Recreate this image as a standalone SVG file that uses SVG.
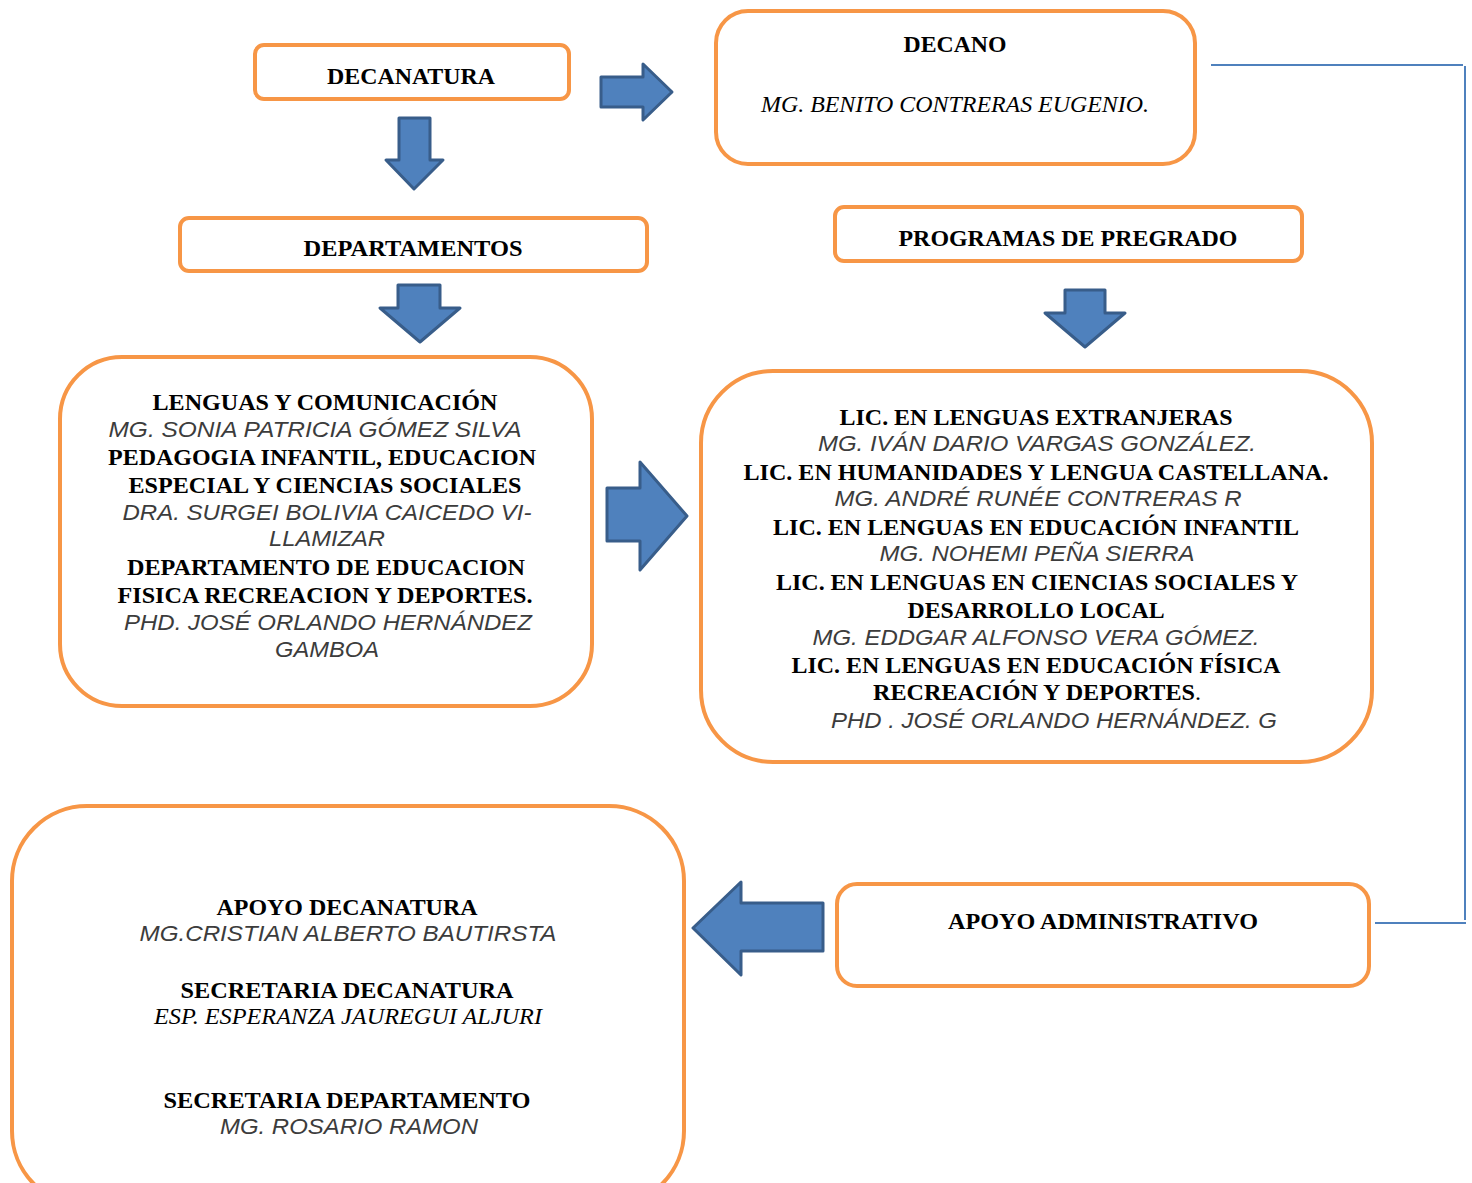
<svg xmlns="http://www.w3.org/2000/svg" width="1472" height="1183" viewBox="0 0 1472 1183">
<style>
.box{fill:#fff;stroke:#F79646;stroke-width:4}
.arr{fill:#4F81BD;stroke:#385D8A;stroke-width:3;stroke-linejoin:round}
.ln{fill:none;stroke:#4F81BD;stroke-width:2}
.b{font-family:"Liberation Serif","Times New Roman",serif;font-weight:bold;font-size:23px;fill:#000;text-anchor:middle}
.si{font-family:"Liberation Sans",Arial,sans-serif;font-style:italic;font-size:22px;fill:#3c3c3c;text-anchor:middle}
.ti{font-family:"Liberation Serif","Times New Roman",serif;font-style:italic;font-size:23px;fill:#000;text-anchor:middle}
</style>
<rect width="1472" height="1183" fill="#fff"/>
<g id="connectors">
<polygon class="arr" points="601,77 643,77 643,64 672,92 643,120 643,107 601,107"/>
<polygon class="arr" points="399,118 430,118 430,160 443,160 414,189 386,160 399,160"/>
<polygon class="arr" points="398,285 440,285 440,308 460,308 420,342 380,308 398,308"/>
<polygon class="arr" points="1065,290 1105,290 1105,313 1125,313 1085,347 1045,313 1065,313"/>
<polygon class="arr" points="607,488 640,488 640,462 687,516 640,570 640,541 607,541"/>
<polygon class="arr" points="823,903 741,903 741,882 693,928 741,975 741,951 823,951"/>
<polyline class="ln" points="1211,65 1463,65"/>
<polyline class="ln" points="1465,66 1465,920"/>
<polyline class="ln" points="1375,923 1466,923"/>
</g>
<g id="decanatura">
<rect class="box" x="255" y="45" width="314" height="54" rx="9"/>
<text class="b" x="411" y="84" textLength="168" lengthAdjust="spacingAndGlyphs">DECANATURA</text>
</g>
<g id="decano">
<rect class="box" x="716" y="11" width="479" height="153" rx="32"/>
<text class="b" x="955" y="52" textLength="103" lengthAdjust="spacingAndGlyphs">DECANO</text>
<text class="ti" x="955" y="112" textLength="388" lengthAdjust="spacingAndGlyphs">MG. BENITO CONTRERAS EUGENIO.</text>
</g>
<g id="departamentos">
<rect class="box" x="180" y="218" width="467" height="53" rx="9"/>
<text class="b" x="413" y="256" textLength="219" lengthAdjust="spacingAndGlyphs">DEPARTAMENTOS</text>
</g>
<g id="programas">
<rect class="box" x="835" y="207" width="467" height="54" rx="9"/>
<text class="b" x="1068" y="246" textLength="339" lengthAdjust="spacingAndGlyphs">PROGRAMAS DE PREGRADO</text>
</g>
<g id="departamentos-lista">
<rect class="box" x="60" y="357" width="532" height="349" rx="62"/>
<text class="b" x="325" y="410" textLength="345" lengthAdjust="spacingAndGlyphs">LENGUAS Y COMUNICACIÓN</text>
<text class="si" x="315" y="437" textLength="413" lengthAdjust="spacingAndGlyphs">MG. SONIA PATRICIA GÓMEZ SILVA</text>
<text class="b" x="322" y="465" textLength="428" lengthAdjust="spacingAndGlyphs">PEDAGOGIA INFANTIL, EDUCACION</text>
<text class="b" x="325" y="493" textLength="393" lengthAdjust="spacingAndGlyphs">ESPECIAL Y CIENCIAS SOCIALES</text>
<text class="si" x="327" y="520" textLength="409" lengthAdjust="spacingAndGlyphs">DRA. SURGEI BOLIVIA CAICEDO VI-</text>
<text class="si" x="327" y="546" textLength="116" lengthAdjust="spacingAndGlyphs">LLAMIZAR</text>
<text class="b" x="326" y="575" textLength="398" lengthAdjust="spacingAndGlyphs">DEPARTAMENTO DE EDUCACION</text>
<text class="b" x="325" y="603" textLength="415" lengthAdjust="spacingAndGlyphs">FISICA RECREACION Y DEPORTES.</text>
<text class="si" x="328" y="630" textLength="408" lengthAdjust="spacingAndGlyphs">PHD. JOSÉ ORLANDO HERNÁNDEZ</text>
<text class="si" x="327" y="657" textLength="104" lengthAdjust="spacingAndGlyphs">GAMBOA</text>
</g>
<g id="programas-lista">
<rect class="box" x="701" y="371" width="671" height="391" rx="72"/>
<text class="b" x="1036" y="425" textLength="393" lengthAdjust="spacingAndGlyphs">LIC. EN LENGUAS EXTRANJERAS</text>
<text class="si" x="1037" y="451" textLength="438" lengthAdjust="spacingAndGlyphs">MG. IVÁN DARIO VARGAS GONZÁLEZ.</text>
<text class="b" x="1036" y="480" textLength="585" lengthAdjust="spacingAndGlyphs">LIC. EN HUMANIDADES Y LENGUA CASTELLANA.</text>
<text class="si" x="1038" y="506" textLength="407" lengthAdjust="spacingAndGlyphs">MG. ANDRÉ RUNÉE CONTRERAS R</text>
<text class="b" x="1036" y="535" textLength="526" lengthAdjust="spacingAndGlyphs">LIC. EN LENGUAS EN EDUCACIÓN INFANTIL</text>
<text class="si" x="1037" y="561" textLength="315" lengthAdjust="spacingAndGlyphs">MG. NOHEMI PEÑA SIERRA</text>
<text class="b" x="1037" y="590" textLength="522" lengthAdjust="spacingAndGlyphs">LIC. EN LENGUAS EN CIENCIAS SOCIALES Y</text>
<text class="b" x="1036" y="618" textLength="257" lengthAdjust="spacingAndGlyphs">DESARROLLO LOCAL</text>
<text class="si" x="1036" y="645" textLength="447" lengthAdjust="spacingAndGlyphs">MG. EDDGAR ALFONSO VERA GÓMEZ.</text>
<text class="b" x="1036" y="673" textLength="489" lengthAdjust="spacingAndGlyphs">LIC. EN LENGUAS EN EDUCACIÓN FÍSICA</text>
<text class="b" x="1037" y="700" textLength="328" lengthAdjust="spacingAndGlyphs">RECREACIÓN Y DEPORTES<tspan font-weight="normal">.</tspan></text>
<text class="si" x="1054" y="728" textLength="446" lengthAdjust="spacingAndGlyphs">PHD . JOSÉ ORLANDO HERNÁNDEZ. G</text>
</g>
<g id="apoyo-lista">
<rect class="box" x="12" y="806" width="672" height="400" rx="75"/>
<text class="b" x="347" y="915" textLength="261" lengthAdjust="spacingAndGlyphs">APOYO DECANATURA</text>
<text class="si" x="348" y="941" textLength="417" lengthAdjust="spacingAndGlyphs">MG.CRISTIAN ALBERTO BAUTIRSTA</text>
<text class="b" x="347" y="998" textLength="333" lengthAdjust="spacingAndGlyphs">SECRETARIA DECANATURA</text>
<text class="ti" x="348" y="1024" textLength="388" lengthAdjust="spacingAndGlyphs">ESP. ESPERANZA JAUREGUI ALJURI</text>
<text class="b" x="347" y="1108" textLength="367" lengthAdjust="spacingAndGlyphs">SECRETARIA DEPARTAMENTO</text>
<text class="si" x="349" y="1134" textLength="258" lengthAdjust="spacingAndGlyphs">MG. ROSARIO RAMON</text>
</g>
<g id="apoyo-administrativo">
<rect class="box" x="837" y="884" width="532" height="102" rx="20"/>
<text class="b" x="1103" y="929" textLength="310" lengthAdjust="spacingAndGlyphs">APOYO ADMINISTRATIVO</text>
</g>
</svg>
